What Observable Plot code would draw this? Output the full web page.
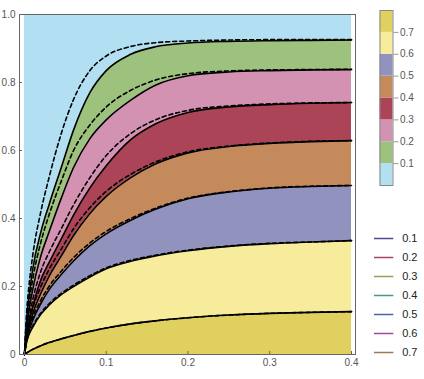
<!DOCTYPE html>
<html><head><meta charset="utf-8">
<script src="https://cdn.jsdelivr.net/npm/d3@7"></script>
<script src="https://cdn.jsdelivr.net/npm/@observablehq/plot@0.6"></script>
<style>
body{margin:0;background:#fff;}
#wrap{position:relative;width:424px;height:379px;overflow:hidden;}
#wrap svg{position:absolute;}
</style></head><body><div id="wrap"></div>
<script>
// ---------- data ----------
const xs = [0, 0.0025, 0.005, 0.01, 0.02, 0.03, 0.045, 0.06, 0.08, 0.1, 0.13, 0.16, 0.2, 0.25, 0.3, 0.35, 0.4];
// solid contour lines (levels 0.1 ... 0.7)
const solid01 = [0, 0.10, 0.16, 0.25, 0.36, 0.44, 0.55, 0.66, 0.77, 0.835, 0.883, 0.905, 0.916, 0.921, 0.923, 0.924, 0.925];
const solid02 = [0, 0.07, 0.12, 0.19, 0.29, 0.36, 0.46, 0.55, 0.635, 0.69, 0.748, 0.792, 0.82, 0.831, 0.835, 0.837, 0.838];
const solid03 = [0, 0.05, 0.09, 0.14, 0.22, 0.27, 0.34, 0.41, 0.49, 0.555, 0.632, 0.678, 0.712, 0.728, 0.735, 0.739, 0.741];
const solid04 = [0, 0.045, 0.075, 0.12, 0.18, 0.23, 0.29, 0.35, 0.415, 0.465, 0.52, 0.56, 0.593, 0.612, 0.621, 0.626, 0.629];
const solid05 = [0, 0.04, 0.065, 0.10, 0.15, 0.19, 0.235, 0.275, 0.32, 0.355, 0.395, 0.427, 0.458, 0.478, 0.489, 0.494, 0.497];
const solid06 = [0, 0.035, 0.055, 0.08, 0.118, 0.145, 0.176, 0.20, 0.228, 0.252, 0.274, 0.29, 0.305, 0.318, 0.326, 0.331, 0.335];
const solid07 = [0, 0.004, 0.008, 0.015, 0.026, 0.035, 0.046, 0.056, 0.068, 0.078, 0.09, 0.099, 0.108, 0.116, 0.121, 0.124, 0.126];
// dashed approximations
const dashed01 = [0, 0.12, 0.19, 0.29, 0.42, 0.52, 0.65, 0.75, 0.835, 0.878, 0.906, 0.917, 0.922, 0.925, 0.926, 0.926, 0.926];
const dashed02 = [0, 0.08, 0.14, 0.22, 0.33, 0.41, 0.51, 0.60, 0.675, 0.728, 0.777, 0.807, 0.826, 0.834, 0.837, 0.838, 0.839];
const dashed03 = [0, 0.06, 0.10, 0.16, 0.245, 0.30, 0.37, 0.44, 0.52, 0.585, 0.65, 0.69, 0.718, 0.731, 0.737, 0.740, 0.741];
const dashed04 = [0, 0.05, 0.085, 0.135, 0.20, 0.25, 0.31, 0.37, 0.432, 0.48, 0.53, 0.566, 0.596, 0.613, 0.622, 0.627, 0.629];
const dashed05 = [0, 0.045, 0.07, 0.108, 0.16, 0.20, 0.245, 0.285, 0.328, 0.362, 0.40, 0.43, 0.46, 0.479, 0.49, 0.495, 0.497];
const dashed06 = [0, 0.037, 0.058, 0.084, 0.122, 0.149, 0.18, 0.204, 0.232, 0.255, 0.277, 0.292, 0.307, 0.319, 0.327, 0.331, 0.335];
const dashed07 = [0, 0.004, 0.008, 0.015, 0.026, 0.035, 0.046, 0.056, 0.068, 0.078, 0.09, 0.099, 0.108, 0.116, 0.121, 0.124, 0.126];

const levels = ["0.1", "0.2", "0.3", "0.4", "0.5", "0.6", "0.7"];
const bandColors = ["#b2e0f2", "#9dc27e", "#d492b2", "#ac4458", "#c48a5c", "#9192be", "#f6ec9b", "#e0d060"]; // top (lowest value) to bottom (highest value)
const lineColors = ["#4b4b93", "#a3446f", "#a39a56", "#45a06e", "#4a66a0", "#a6479f", "#9e7a52"];
const xTicks = [0, 0.1, 0.2, 0.3, 0.4];
const yTicks = [0, 0.2, 0.4, 0.6, 0.8, 1.0];
const barTicks = [0.1, 0.2, 0.3, 0.4, 0.5, 0.6, 0.7];

// ---------- build tables ----------
const solids = [solid01, solid02, solid03, solid04, solid05, solid06, solid07];
const dasheds = [dashed01, dashed02, dashed03, dashed04, dashed05, dashed06, dashed07];
const bandRows = [];
for (let b = 0; b < 8; b++) {
  xs.forEach((x, i) => bandRows.push({
    band: b, x,
    lo: b === 7 ? 0 : solids[b][i],
    hi: b === 0 ? 1 : solids[b - 1][i],
    color: bandColors[b]
  }));
}
const solidRows = [], dashedRows = [];
solids.forEach((arr, k) => xs.forEach((x, i) => solidRows.push({k, x, y: arr[i]})));
dasheds.forEach((arr, k) => xs.forEach((x, i) => dashedRows.push({k, x, y: arr[i]})));

const font = "'Liberation Sans', Arial, sans-serif";
const gray = "#666";

// ---------- main chart ----------
const main = Plot.plot({
  width: 424, height: 379,
  marginLeft: 19, marginRight: 69, marginTop: 14, marginBottom: 25,
  style: {fontFamily: font, fontSize: "10px", background: "transparent"},
  x: {domain: [-0.0061, 0.4049], axis: null},
  y: {domain: [0, 1], axis: null},
  color: {type: "identity"},
  marks: [
    Plot.areaY(bandRows, {x: "x", y1: "lo", y2: "hi", z: "band", fill: "color", curve: "monotone-x"}),
    Plot.line(dashedRows, {x: "x", y: "y", z: "k", stroke: "#000", strokeWidth: 1.6, strokeDasharray: "4,3", curve: "monotone-x"}),
    Plot.line(solidRows, {x: "x", y: "y", z: "k", stroke: "#000", strokeWidth: 1.6, curve: "monotone-x"}),
    Plot.frame({stroke: gray}),
    Plot.ruleX(xTicks, {x: d => d, y1: 0, y2: 0.009, stroke: gray}),
    Plot.ruleY(yTicks, {y: d => d, x1: -0.0061, x2: -0.0024, stroke: gray}),
    Plot.axisX({ticks: xTicks, label: null, tickSize: 0, tickPadding: 4, tickFormat: d => d === 0 ? "0" : d.toFixed(1), fill: "#555", fontSize: 10}),
    Plot.axisY({ticks: yTicks, label: null, tickSize: 0, tickPadding: 4, tickFormat: d => d === 0 ? "0" : d.toFixed(1), fill: "#555", fontSize: 10})
  ]
});
main.style.left = "0px"; main.style.top = "0px";
document.getElementById("wrap").appendChild(main);

// ---------- colour bar legend ----------
const barRows = bandColors.map((c, i) => ({lo: i * 0.1, hi: (i + 1) * 0.1, color: c}));
const bar = Plot.plot({
  width: 64, height: 200,
  marginLeft: 19.5, marginRight: 31.5, marginTop: 10, marginBottom: 15,
  style: {fontFamily: font, fontSize: "10px", background: "transparent"},
  x: {domain: [0, 1], axis: null},
  y: {domain: [0, 0.8], axis: null},
  color: {type: "identity"},
  marks: [
    Plot.rect(barRows, {x1: 0, x2: 1, y1: "lo", y2: "hi", fill: "color"}),
    Plot.frame({stroke: "#888"}),
    Plot.axisY({anchor: "right", label: null, ticks: barTicks, tickSize: 5, tickPadding: 2, stroke: "#999", fill: "#555", fontSize: 10, tickFormat: d => d.toFixed(1)})
  ]
});
bar.style.left = "360px"; bar.style.top = "0px";
document.getElementById("wrap").appendChild(bar);

// ---------- line legend ----------
const legRows = levels.map((l, i) => ({label: l, color: lineColors[i]}));
const leg = Plot.plot({
  width: 64, height: 169, margin: 0,
  style: {fontFamily: font, fontSize: "11px", background: "transparent"},
  x: {domain: [0, 1], range: [14, 33.3], axis: null},
  y: {type: "point", domain: levels, range: [15.7, 154.3], axis: null},
  color: {type: "identity"},
  marks: [
    Plot.ruleY(legRows, {y: "label", x1: 0, x2: 1, stroke: "color", strokeWidth: 1.5}),
    Plot.text(legRows, {y: "label", x: 1, dx: 8.4, text: "label", textAnchor: "start", fill: "#222", fontSize: 11})
  ]
});
leg.style.left = "360px"; leg.style.top = "210px";
document.getElementById("wrap").appendChild(leg);
</script>
</body></html>
